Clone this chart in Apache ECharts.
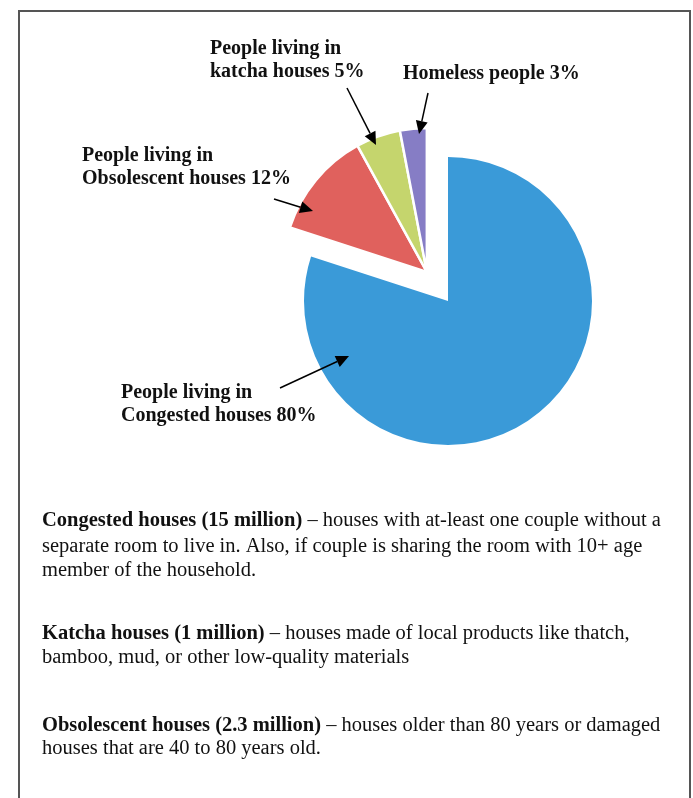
<!DOCTYPE html>
<html>
<head>
<meta charset="utf-8">
<script src="https://cdn.jsdelivr.net/npm/echarts@6/dist/echarts.min.js"></script>
<style>
html,body{margin:0;padding:0;background:#fff;}
#main{width:693px;height:798px;}
</style>
</head>
<body>
<div id="main"></div>
<script>
// ---- data ----
const categories = ['Congested houses', 'Obsolescent houses', 'katcha houses', 'Homeless people'];
const values = [80, 12, 5, 3];
const colors = ['#3a9ad8', '#e0615d', '#c5d56d', '#867dc5'];
const labelPrefix = ['People living in\n', 'People living in\n', 'People living in\n', ''];

const notes = [
  ['Congested houses (15 million)', ' – houses with at-least one couple without a',
   'separate room to live in. Also, if couple is sharing the room with 10+ age',
   'member of the household.'],
  ['Katcha houses (1 million)', ' – houses made of local products like thatch,',
   'bamboo, mud, or other low-quality materials'],
  ['Obsolescent houses (2.3 million)', ' – houses older than 80 years or damaged',
   'houses that are 40 to 80 years old.']
];

// ---- layout ----
const cx = 448, cy = 301, R = 144, explode = 36;
const total = values.reduce((a, b) => a + b, 0);
const smallSum = values.slice(1).reduce((a, b) => a + b, 0);
const midDeg = 360 * (values[0] + smallSum / 2) / total; // clockwise from top
const mid = midDeg * Math.PI / 180;
const cx2 = cx + Math.sin(mid) * explode;
const cy2 = cy - Math.cos(mid) * explode;

const FONT = '"Liberation Serif", "DejaVu Serif", serif';

const labelPos = [[121, 393], [82, 156], [210, 49], [403, 74]];
const arrows = [
  [[280, 388], [349, 356]],
  [[274, 199], [313, 211]],
  [[347, 88], [376, 145]],
  [[428, 93], [419, 134]]
];
const noteY = [[521, 547, 571], [634, 658], [726, 749]];

const graphic = [];
graphic.push({
  type: 'polyline', silent: true, z: 100,
  shape: { points: [[19, 800], [19, 11], [690, 11], [690, 800]] },
  style: { stroke: '#555', lineWidth: 2, fill: null }
});
categories.forEach((c, i) => {
  graphic.push({
    type: 'text', silent: true, z: 100,
    x: labelPos[i][0], y: labelPos[i][1] - 11.5,
    style: {
      text: labelPrefix[i] + c + ' ' + values[i] + '%',
      font: 'bold 20px ' + FONT, fill: '#111',
      lineHeight: 23, verticalAlign: 'top', align: 'left'
    }
  });
  const [p0, p1] = arrows[i];
  const dx = p1[0] - p0[0], dy = p1[1] - p0[1];
  const L = Math.hypot(dx, dy), ux = dx / L, uy = dy / L;
  const hl = 13, hw = 6;
  const bx = p1[0] - ux * hl, by = p1[1] - uy * hl;
  graphic.push({
    type: 'line', silent: true, z: 100,
    shape: { x1: p0[0], y1: p0[1], x2: bx, y2: by },
    style: { stroke: '#000', lineWidth: 1.5 }
  });
  graphic.push({
    type: 'polygon', silent: true, z: 100,
    shape: { points: [[p1[0], p1[1]], [bx - uy * hw, by + ux * hw], [bx + uy * hw, by - ux * hw]] },
    style: { fill: '#000' }
  });
});
notes.forEach((n, k) => {
  n.forEach((line, j) => {
    if (j === 0) return;
    const isFirst = j === 1;
    graphic.push({
      type: 'text', silent: true, z: 100,
      x: 42, y: noteY[k][j - 1],
      style: isFirst ? {
        text: '{b|' + n[0] + '}{r|' + line + '}',
        verticalAlign: 'middle', align: 'left',
        rich: {
          b: { font: 'bold 20.5px ' + FONT, fill: '#111' },
          r: { font: '20.5px ' + FONT, fill: '#111' }
        }
      } : {
        text: line, font: '20.5px ' + FONT, fill: '#111',
        verticalAlign: 'middle', align: 'left'
      }
    });
  });
});

const mainData = values.map((v, i) => ({
  name: categories[i], value: v,
  itemStyle: { color: i === 0 ? colors[0] : 'rgba(0,0,0,0)', borderWidth: 0 }
}));
const smallData = values.map((v, i) => ({
  name: categories[i], value: v,
  itemStyle: i === 0 ? { color: 'rgba(0,0,0,0)', borderWidth: 0 }
                     : { color: colors[i], borderColor: '#fff', borderWidth: 2.5 }
}));

const chart = echarts.init(document.getElementById('main'), null, { renderer: 'canvas' });
chart.setOption({
  backgroundColor: '#fff',
  animation: false,
  series: [
    {
      type: 'pie', center: [cx, cy], radius: [0, R], startAngle: 90, clockwise: true,
      silent: true, label: { show: false }, labelLine: { show: false },
      emphasis: { disabled: true }, data: mainData
    },
    {
      type: 'pie', center: [cx2, cy2], radius: [0, R], startAngle: 90, clockwise: true,
      silent: true, label: { show: false }, labelLine: { show: false },
      emphasis: { disabled: true }, data: smallData
    }
  ],
  graphic: graphic
});
</script>
</body>
</html>
